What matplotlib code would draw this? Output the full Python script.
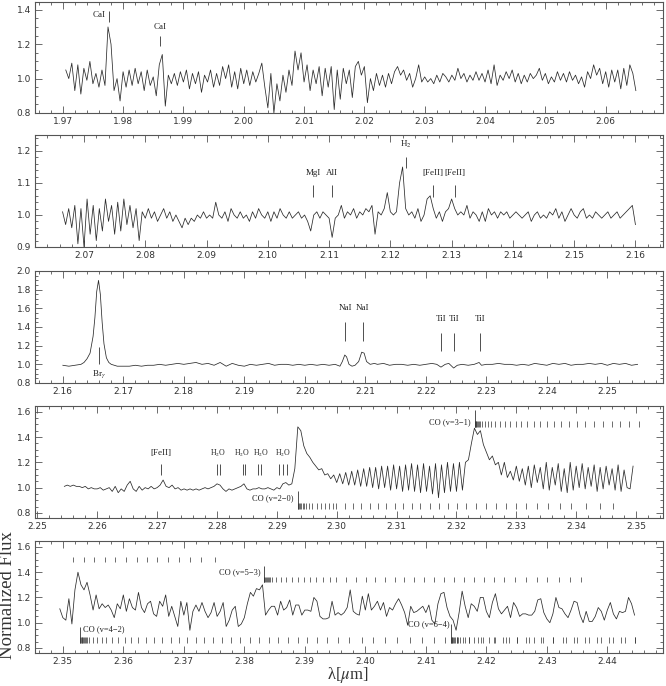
import numpy as np
import matplotlib.pyplot as plt
from matplotlib.ticker import MultipleLocator, FormatStrFormatter

plt.rcParams['mathtext.fontset'] = 'stix'

# ---------------- spectrum data (normalized flux, 0.0005 um sampling) ----------------
wave1_range = (1.9705, 2.0650)
flux1 = [1.05, 1.00, 1.09, 0.93, 1.08, 0.91, 1.06, 0.99, 1.10, 0.97,
         1.03, 0.95, 1.05, 0.96, 1.30, 1.20, 0.93, 1.00, 0.87, 1.04,
         0.95, 1.05, 0.96, 1.06, 0.97, 1.04, 0.93, 1.05, 0.96, 1.01,
         0.90, 1.08, 1.14, 0.84, 1.02, 0.97, 1.03, 0.96, 1.04, 0.98,
         1.05, 0.94, 1.03, 0.97, 1.04, 0.92, 1.02, 0.98, 1.05, 0.95,
         1.03, 0.96, 1.07, 1.00, 1.08, 0.95, 1.04, 0.94, 1.06, 0.97,
         1.05, 0.96, 1.04, 0.98, 1.03, 1.09, 0.95, 0.83, 1.03, 0.80,
         0.97, 0.87, 1.02, 0.92, 1.05, 0.96, 1.16, 1.05, 1.15, 0.98,
         1.08, 0.93, 1.05, 0.97, 1.07, 0.90, 1.06, 0.95, 1.07, 0.82,
         1.05, 0.88, 1.06, 0.97, 1.05, 0.89, 1.07, 1.10, 1.02, 1.07,
         0.86, 1.00, 0.93, 1.03, 0.96, 1.02, 0.95, 1.03, 0.97, 1.04,
         1.07, 1.02, 1.05, 0.99, 1.03, 0.95, 1.00, 1.08, 0.98, 1.01,
         0.98, 1.00, 0.97, 1.02, 0.98, 1.03, 1.01, 0.98, 1.02, 0.99,
         1.06, 1.00, 1.03, 0.98, 1.02, 0.99, 1.04, 0.99, 1.03, 0.98,
         1.05, 0.97, 1.08, 0.96, 1.02, 0.99, 1.04, 1.00, 1.05, 0.98,
         1.03, 0.97, 1.02, 0.98, 1.03, 1.00, 1.02, 1.06, 0.99, 1.03,
         0.97, 1.01, 0.98, 1.04, 0.99, 1.03, 0.98, 1.04, 0.99, 1.02,
         0.97, 1.01, 0.95, 1.04, 1.00, 1.08, 1.02, 1.06, 0.97, 1.04,
         0.95, 1.05, 0.98, 1.05, 0.94, 1.06, 0.96, 1.08, 1.03, 0.93]

wave2_range = (2.0665, 2.1600)
flux2 = [1.01, 0.97, 1.02, 0.96, 1.03, 0.91, 1.02, 0.90, 1.05, 0.94,
         1.03, 0.92, 1.02, 0.95, 1.05, 0.98, 1.03, 0.94, 1.04, 0.95,
         1.05, 0.97, 1.03, 0.96, 1.02, 0.92, 1.01, 0.99, 1.02, 0.99,
         1.01, 0.98, 1.00, 1.02, 0.99, 1.01, 0.98, 1.00, 0.98, 0.96,
         0.99, 0.97, 0.99, 0.98, 1.00, 0.99, 1.01, 0.99, 1.00, 0.99,
         1.04, 1.00, 0.99, 1.01, 0.98, 1.02, 1.00, 0.99, 1.01, 0.99,
         1.00, 0.98, 1.01, 0.99, 1.02, 1.00, 0.99, 1.01, 0.98, 1.01,
         0.99, 1.02, 1.00, 0.99, 1.01, 0.99, 1.00, 1.01, 0.99, 1.00,
         0.98, 0.95, 1.00, 1.01, 0.99, 1.01, 1.00, 0.99, 0.93, 0.99,
         1.00, 1.03, 0.99, 1.01, 1.00, 1.02, 0.99, 1.01, 1.00, 1.02,
         1.01, 1.03, 0.94, 1.01, 1.00, 1.02, 1.07, 1.01, 1.00, 1.01,
         1.10, 1.15, 1.02, 1.00, 1.01, 0.99, 1.02, 0.98, 1.00, 1.05,
         1.06, 1.02, 0.99, 1.01, 0.98, 1.01, 1.02, 1.05, 1.02, 1.00,
         1.01, 1.00, 1.03, 0.99, 1.01, 1.00, 0.98, 1.01, 0.98, 1.02,
         1.00, 1.01, 0.99, 1.01, 1.00, 1.01, 0.99, 1.00, 1.01, 1.00,
         0.99, 1.00, 1.01, 0.98, 1.00, 1.01, 0.99, 1.00, 0.99, 1.01,
         1.00, 1.02, 0.99, 1.01, 0.98, 1.00, 1.02, 1.00, 0.99, 1.01,
         1.02, 0.99, 1.00, 0.99, 1.01, 1.00, 0.99, 1.00, 1.01, 0.99,
         1.00, 1.01, 0.99, 1.00, 1.01, 1.02, 1.03, 0.97]

wave3 = [2.1600, 2.1610, 2.1620, 2.1630, 2.1635, 2.1640, 2.1645, 2.1650, 2.1653, 2.1656,
         2.1659, 2.1662, 2.1665, 2.1668, 2.1672, 2.1676, 2.1680, 2.1690, 2.1700, 2.1710,
         2.1720, 2.1730, 2.1740, 2.1750, 2.1760, 2.1770, 2.1780, 2.1790, 2.1800, 2.1810,
         2.1820, 2.1830, 2.1840, 2.1850, 2.1860, 2.1870, 2.1880, 2.1890, 2.1900, 2.1910,
         2.1920, 2.1930, 2.1940, 2.1950, 2.1960, 2.1970, 2.1980, 2.1990, 2.2000, 2.2010,
         2.2020, 2.2030, 2.2040, 2.2050, 2.2058, 2.2062, 2.2066, 2.2069, 2.2073, 2.2078,
         2.2083, 2.2089, 2.2094, 2.2098, 2.2102, 2.2108, 2.2115, 2.2120, 2.2130, 2.2140,
         2.2150, 2.2160, 2.2170, 2.2180, 2.2190, 2.2200, 2.2210, 2.2218, 2.2225, 2.2232,
         2.2238, 2.2246, 2.2252, 2.2260, 2.2270, 2.2280, 2.2288, 2.2292, 2.2300, 2.2310,
         2.2320, 2.2330, 2.2340, 2.2350, 2.2360, 2.2370, 2.2380, 2.2390, 2.2400, 2.2410,
         2.2420, 2.2430, 2.2440, 2.2450, 2.2460, 2.2470, 2.2480, 2.2490, 2.2500, 2.2510,
         2.2520, 2.2530, 2.2540, 2.2550]
flux3 = [0.99, 0.98, 0.99, 1.00, 1.02, 1.06, 1.12, 1.30, 1.50, 1.78,
         1.90, 1.75, 1.45, 1.22, 1.07, 1.02, 1.00, 0.98, 0.98, 0.98,
         0.99, 0.98, 0.99, 0.99, 1.00, 0.99, 1.00, 1.01, 1.00, 1.01,
         1.02, 1.00, 1.01, 0.99, 1.02, 0.98, 1.01, 0.99, 0.98, 1.00,
         0.99, 1.00, 1.01, 0.99, 1.00, 1.00, 0.99, 1.00, 0.99, 1.00,
         0.99, 1.00, 0.99, 1.00, 0.98, 1.03, 1.10, 1.08, 1.00, 0.98,
         0.99, 1.03, 1.13, 1.12, 1.03, 1.00, 1.01, 1.00, 1.01, 0.99,
         1.00, 1.00, 0.99, 1.00, 0.99, 1.00, 1.01, 1.00, 0.97, 1.00,
         1.01, 0.96, 0.99, 1.00, 0.99, 1.00, 1.02, 0.99, 1.00, 1.00,
         1.01, 1.00, 1.00, 0.99, 1.00, 0.99, 1.01, 1.00, 0.99, 1.01,
         1.00, 1.01, 0.99, 1.00, 1.00, 1.01, 1.00, 1.01, 0.99, 1.01,
         1.00, 1.01, 0.99, 1.00]

wave4_range = (2.2545, 2.3495)
flux4 = [1.01, 1.02, 1.01, 1.02, 1.01, 1.01, 1.00, 1.01, 0.99, 1.00,
         0.99, 0.99, 1.00, 0.98, 0.99, 1.00, 0.97, 1.01, 0.96, 0.99,
         0.97, 1.02, 1.05, 0.99, 0.97, 1.01, 0.98, 1.00, 0.99, 1.01,
         0.99, 1.00, 1.02, 1.06, 1.01, 1.00, 1.02, 0.99, 1.00, 0.98,
         0.99, 0.98, 0.99, 0.98, 0.99, 0.98, 0.99, 1.00, 0.99, 1.00,
         1.01, 1.03, 1.02, 0.99, 0.97, 0.99, 0.98, 0.99, 1.00, 1.01,
         1.03, 0.99, 0.98, 0.99, 0.99, 1.00, 0.99, 0.99, 1.00, 0.99,
         0.98, 1.00, 0.99, 1.03, 1.04, 1.02, 1.03, 1.15, 1.48, 1.45,
         1.33, 1.27, 1.24, 1.20, 1.17, 1.14, 1.15, 1.10, 1.11, 1.07,
         1.10, 1.04, 1.11, 1.03, 1.12, 1.02, 1.13, 1.02, 1.14, 1.01,
         1.15, 1.01, 1.16, 1.00, 1.16, 0.99, 1.17, 1.00, 1.17, 0.98,
         1.18, 0.99, 1.17, 0.97, 1.18, 0.98, 1.19, 0.97, 1.18, 0.96,
         1.19, 0.97, 1.17, 0.95, 1.19, 0.92, 1.18, 0.96, 1.20, 0.97,
         1.19, 0.97, 1.20, 0.98, 1.20, 1.22, 1.35, 1.47, 1.42, 1.45,
         1.34, 1.28, 1.22, 1.25, 1.18, 1.20, 1.10, 1.20, 1.08, 1.13,
         1.06, 1.17, 1.05, 1.15, 1.02, 1.17, 1.00, 1.18, 1.04, 1.16,
         0.99, 1.20, 0.98, 1.16, 1.02, 1.19, 0.97, 1.15, 0.96, 1.20,
         0.98, 1.17, 1.00, 1.19, 0.99, 1.16, 1.01, 1.18, 0.97, 1.16,
         0.99, 1.17, 1.02, 1.15, 0.98, 1.18, 0.97, 1.14, 1.00, 0.99,
         1.17]

wave5_range = (2.3495, 2.4445)
flux5 = [1.11, 1.04, 1.02, 1.19, 0.99, 1.26, 1.40, 1.30, 1.26, 1.32,
         1.22, 1.10, 1.22, 1.11, 1.15, 1.12, 1.14, 1.10, 1.04, 1.15,
         1.11, 1.22, 1.09, 1.19, 1.12, 1.10, 1.24, 1.12, 1.08, 1.15,
         1.17, 1.07, 1.05, 1.17, 1.13, 1.22, 1.05, 1.13, 1.05, 0.97,
         1.17, 1.06, 1.16, 0.94, 1.09, 1.14, 1.09, 1.16, 1.09, 1.04,
         1.08, 1.16, 1.05, 1.09, 1.16, 0.97, 1.02, 1.10, 1.13, 0.97,
         0.99, 1.04, 1.15, 1.24, 1.21, 1.27, 1.26, 1.30, 1.06, 1.10,
         1.13, 1.13, 1.06, 1.17, 1.10, 1.12, 1.18, 1.06, 1.14, 1.14,
         1.06, 1.10, 1.10, 1.09, 1.20, 1.17, 1.05, 1.03, 1.03, 1.04,
         1.17, 1.06, 1.08, 1.06, 1.08, 1.12, 1.26, 1.09, 1.07, 1.06,
         1.21, 1.10, 1.23, 1.10, 1.13, 1.17, 1.10, 1.16, 1.05, 1.12,
         1.10, 1.15, 1.19, 1.14, 1.08, 0.98, 1.13, 1.08, 1.09, 1.11,
         1.13, 1.08, 1.14, 1.02, 0.99, 1.15, 1.23, 1.24, 1.12, 1.05,
         1.02, 0.94, 1.08, 1.25, 1.13, 1.04, 1.15, 1.13, 1.09, 1.20,
         1.20, 1.09, 1.04, 1.16, 1.23, 1.11, 1.07, 1.10, 1.13, 1.04,
         1.16, 1.12, 1.05, 1.07, 1.07, 1.06, 1.06, 1.09, 1.18, 1.19,
         1.08, 1.03, 1.00, 1.07, 1.20, 1.12, 1.11, 1.07, 1.04, 1.10,
         1.17, 1.16, 1.06, 1.00, 1.09, 1.01, 1.01, 1.05, 1.12, 1.09,
         1.02, 1.10, 1.16, 1.07, 1.03, 1.09, 1.08, 1.09, 1.20, 1.15,
         1.06]

# ---------------- line identifications ----------------
p1_ids = [('CaI', 1.9776), ('CaI', 1.9861)]
p2_ids = [('MgI', 2.1074), ('AlI', 2.1104), ('H$_2$', 2.1225), ('[FeII]', 2.1269), ('[FeII]', 2.1305)]
p3_nai = [2.2067, 2.2096]
p3_tii = [2.2225, 2.2246, 2.2290]
brg = 2.1659
feii_4 = 2.2707
h2o_groups = [[2.2800, 2.2805], [2.2844, 2.2846], [2.2868, 2.2874], [2.2903, 2.2911, 2.2917]]
h2o_label_x = [2.2802, 2.2842, 2.2874, 2.2910]

# CO ro-vibrational line positions
co20_p4 = [2.2936, 2.2937, 2.2939, 2.2941, 2.2943, 2.2946, 2.2949, 2.2953, 2.2959, 2.2967,
           2.2974, 2.2981, 2.2987, 2.2994, 2.2999, 2.3014, 2.3027, 2.3041, 2.3056, 2.3069,
           2.3083, 2.3098, 2.3111, 2.3126, 2.3139, 2.3156, 2.3171, 2.3186, 2.3201, 2.3216,
           2.3233, 2.3250, 2.3266, 2.3283, 2.3300, 2.3316, 2.3335, 2.3353, 2.3373, 2.3391,
           2.3417, 2.3440, 2.3462]
co31_p4 = [2.3231, 2.32315, 2.3232, 2.3233, 2.3234, 2.3236, 2.3238, 2.3240, 2.3242, 2.3247,
           2.3253, 2.3258, 2.3265, 2.3272, 2.3281, 2.3289, 2.3299, 2.3308, 2.3318, 2.3329,
           2.3340, 2.3351, 2.3363, 2.3375, 2.3388, 2.3401, 2.3415, 2.3429, 2.3444, 2.3459,
           2.3474, 2.3489, 2.3505]
co31_p5 = [2.3517, 2.3535, 2.3552, 2.3569, 2.3587, 2.3604, 2.3622, 2.3639, 2.3656, 2.3674,
           2.3692, 2.3710, 2.3729, 2.3751]
co53 = [2.3832, 2.3833, 2.3834, 2.3835, 2.3837, 2.3839, 2.3841, 2.3843, 2.3845, 2.3853,
        2.3861, 2.3869, 2.3879, 2.3889, 2.3898, 2.3908, 2.3919, 2.3930, 2.3941, 2.3951,
        2.3968, 2.3984, 2.4001, 2.4016, 2.4033, 2.4049, 2.4064, 2.4081, 2.4097, 2.4114,
        2.4130, 2.4147, 2.4163, 2.4180, 2.4196, 2.4213, 2.4229, 2.4248, 2.4265, 2.4283,
        2.4301, 2.4320, 2.4338, 2.4357]
co42 = [2.3529, 2.3530, 2.3531, 2.3532, 2.3534, 2.3535, 2.3537, 2.3538, 2.3540, 2.3543,
        2.3550, 2.3557, 2.3564, 2.3572, 2.3581, 2.3591, 2.3602, 2.3613, 2.3625, 2.3638,
        2.3651, 2.3664, 2.3678, 2.3692, 2.3705, 2.3720, 2.3734, 2.3748, 2.3763, 2.3778,
        2.3793, 2.3809, 2.3824, 2.3840, 2.3856, 2.3872, 2.3888, 2.3903, 2.3920, 2.3936,
        2.3954, 2.3973, 2.3994, 2.4013, 2.4033, 2.4053, 2.4073, 2.4093, 2.4113, 2.4132,
        2.4152, 2.4172, 2.4192, 2.4212, 2.4232, 2.4251, 2.4271, 2.4291, 2.4311, 2.4331,
        2.4350, 2.4370, 2.4390, 2.4410, 2.4430, 2.4445]
co64 = [2.4142, 2.4143, 2.4144, 2.4145, 2.4147, 2.4149, 2.4151, 2.4153, 2.4156, 2.4161,
        2.4165, 2.4172, 2.4179, 2.4187, 2.4195, 2.4205, 2.4215, 2.4227, 2.4238, 2.4251,
        2.4265, 2.4279, 2.4294, 2.4311, 2.4327, 2.4345, 2.4363, 2.4383, 2.4403, 2.4423,
        2.4445]

# ---------------- figure ----------------
LC = '#2a2a2a'
SERIF = 'Liberation Serif'
fig = plt.figure(figsize=(6.66, 6.86), dpi=100)

H = 686.0
panels_px = [(2, 113), (135, 247), (271, 383), (406, 518), (541, 653)]
axes = []
for top, bot in panels_px:
    axes.append(fig.add_axes([35 / 666, 1 - bot / H, 628 / 666, (bot - top) / H]))


def style(ax, xlim, ylim, ymaj, ymin):
    ax.set_xlim(*xlim)
    ax.set_ylim(*ylim)
    ax.xaxis.set_major_locator(MultipleLocator(0.01))
    ax.xaxis.set_minor_locator(MultipleLocator(0.002))
    ax.yaxis.set_major_locator(MultipleLocator(ymaj))
    ax.yaxis.set_minor_locator(MultipleLocator(ymin))
    ax.xaxis.set_major_formatter(FormatStrFormatter('%.2f'))
    ax.yaxis.set_major_formatter(FormatStrFormatter('%.1f'))
    ax.tick_params(which='both', direction='in', top=True, right=True,
                   colors='#555555', labelcolor='#333333', width=0.6)
    ax.tick_params(which='major', length=5, labelsize=6.5, pad=3)
    ax.tick_params(which='minor', length=2.5)
    for sp in ax.spines.values():
        sp.set_color('#555555')
        sp.set_linewidth(0.8)


def lab(ax, x, y, s, ha='center', size=6.5):
    ax.text(x, y, s, ha=ha, va='center', fontsize=size, family=SERIF, color='#222222')


def mark(ax, x, y0, y1, lw=0.6):
    ax.vlines(x, y0, y1, color='#333333', lw=lw)


# panel 1
ax = axes[0]
ax.plot(np.linspace(*wave1_range, len(flux1)), flux1, color=LC, lw=0.55)
style(ax, (1.9654, 2.0695), (0.8, 1.445), 0.2, 0.05)
mark(ax, p1_ids[0][1], 1.33, 1.39)
lab(ax, p1_ids[0][1] - 0.0005, 1.37, p1_ids[0][0], ha='right')
mark(ax, p1_ids[1][1], 1.19, 1.25)
lab(ax, p1_ids[1][1], 1.30, p1_ids[1][0])

# panel 2
ax = axes[1]
ax.plot(np.linspace(*wave2_range, len(flux2)), flux2, color=LC, lw=0.55)
style(ax, (2.0620, 2.1645), (0.9, 1.25), 0.1, 0.02)
for name, x in p2_ids:
    if name.startswith('H'):
        mark(ax, x, 1.146, 1.182)
        lab(ax, x, 1.22, name)
    else:
        mark(ax, x, 1.057, 1.094)
        lab(ax, x, 1.13, name)

# panel 3
ax = axes[2]
ax.plot(wave3, flux3, color=LC, lw=0.55)
style(ax, (2.1554, 2.2592), (0.8, 2.0), 0.2, 0.05)
mark(ax, brg, 1.0, 1.19)
lab(ax, brg, 0.90, r'Br$_\gamma$')
for x in p3_nai:
    mark(ax, x, 1.25, 1.45)
    lab(ax, x, 1.60, 'NaI')
for x in p3_tii:
    mark(ax, x, 1.14, 1.34)
    lab(ax, x, 1.49, 'TiI')

# panel 4
ax = axes[3]
ax.plot(np.linspace(*wave4_range, len(flux4)), flux4, color=LC, lw=0.55)
style(ax, (2.2496, 2.3545), (0.76, 1.645), 0.2, 0.05)
mark(ax, feii_4, 1.10, 1.19)
lab(ax, feii_4, 1.27, '[FeII]')
for grp, lx in zip(h2o_groups, h2o_label_x):
    for x in grp:
        mark(ax, x, 1.10, 1.19)
    lab(ax, lx, 1.27, 'H$_2$O', size=5.6)
ax.vlines(co20_p4, 0.833, 0.88, color='#333333', lw=0.5)
mark(ax, co20_p4[0], 0.833, 0.976)
lab(ax, co20_p4[0] - 0.0008, 0.92, 'CO (v=2\u22120)', ha='right', size=6)
ax.vlines(co31_p4, 1.476, 1.524, color='#333333', lw=0.5)
mark(ax, co31_p4[0], 1.476, 1.61)
lab(ax, co31_p4[0] - 0.0007, 1.516, 'CO (v=3\u22121)', ha='right', size=6)

# panel 5
ax = axes[4]
ax.plot(np.linspace(*wave5_range, len(flux5)), flux5, color=LC, lw=0.55)
style(ax, (2.3454, 2.4492), (0.76, 1.647), 0.2, 0.05)
ax.vlines(co31_p5, 1.482, 1.522, color='#333333', lw=0.5)
ax.vlines(co53, 1.324, 1.364, color='#333333', lw=0.5)
mark(ax, co53[0], 1.324, 1.45)
lab(ax, co53[0] - 0.0005, 1.40, 'CO (v=5\u22123)', ha='right', size=6)
ax.vlines(co42, 0.842, 0.889, color='#333333', lw=0.5)
mark(ax, co42[0], 0.842, 0.968)
lab(ax, co42[0] + 0.0005, 0.945, 'CO (v=4\u22122)', ha='left', size=6)
ax.vlines(co64, 0.842, 0.889, color='#333333', lw=0.5)
mark(ax, co64[0], 0.842, 0.99)
lab(ax, co64[0] - 0.0003, 0.99, 'CO (v=6\u22124)', ha='right', size=6)

fig.text(8 / 666, 1 - 595 / H, 'Normalized Flux', rotation=90, ha='center', va='center',
         fontsize=13.5, family=SERIF, color='#333333')
fig.text(348 / 666, 1 - 675 / H, r'λ[$\mu$m]', ha='center', va='center',
         fontsize=12, family=SERIF, color='#333333')

fig.savefig('out.png', dpi=100)
